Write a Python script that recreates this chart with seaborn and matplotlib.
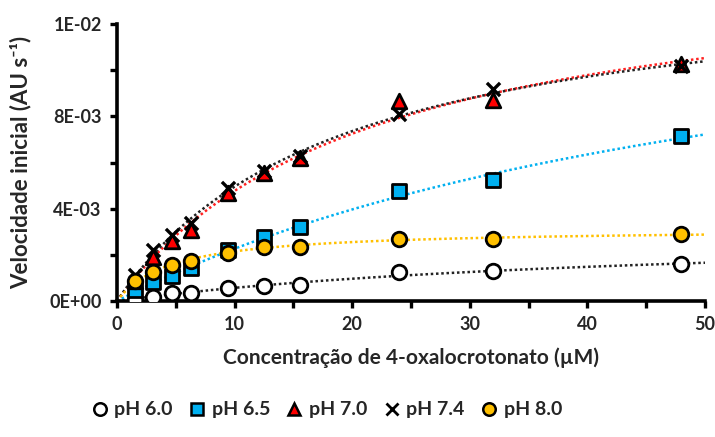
import numpy as np
import pandas as pd
import matplotlib
matplotlib.use("Agg")
import matplotlib.pyplot as plt
from matplotlib.lines import Line2D
from matplotlib.ticker import MultipleLocator, FixedLocator
import seaborn as sns

# Substrate concentrations (µM)
conc = [1.5, 3.1, 4.7, 6.3, 9.4, 12.5, 15.6, 24.0, 32.0, 48.0]

# Initial rates (AU s^-1) for each pH
v_ph60 = [0.04e-3, 0.19e-3, 0.33e-3, 0.36e-3, 0.58e-3, 0.65e-3, 0.70e-3, 1.25e-3, 1.28e-3, 1.60e-3]
v_ph65 = [0.48e-3, 0.84e-3, 1.09e-3, 1.42e-3, 2.22e-3, 2.77e-3, 3.20e-3, 4.78e-3, 5.23e-3, 7.14e-3]
v_ph70 = [0.85e-3, 1.91e-3, 2.58e-3, 3.09e-3, 4.68e-3, 5.55e-3, 6.20e-3, 8.67e-3, 8.70e-3, 10.25e-3]
v_ph74 = [1.13e-3, 2.22e-3, 2.87e-3, 3.38e-3, 4.90e-3, 5.62e-3, 6.28e-3, 8.09e-3, 9.17e-3, 10.17e-3]
v_ph80 = [0.87e-3, 1.27e-3, 1.57e-3, 1.75e-3, 2.10e-3, 2.32e-3, 2.36e-3, 2.70e-3, 2.70e-3, 2.91e-3]

series_labels = ["pH 6.0", "pH 6.5", "pH 7.0", "pH 7.4", "pH 8.0"]

# Axis tick labels
y_tick_values = [0.0, 0.004, 0.008, 0.012]
y_tick_labels = ["0E+00", "4E-03", "8E-03", "1E-02"]
x_tick_values = [0, 10, 20, 30, 40, 50]

series_values = [v_ph60, v_ph65, v_ph70, v_ph74, v_ph80]
fill_colors = ["white", "#00B0F0", "#FF0000", "black", "#FFC000"]
line_colors = ["#222222", "#00B0F0", "#FF2020", "#222222", "#FFC000"]
markers = ["o", "s", "^", "x", "o"]
sizes = [110, 100, 110, 90, 110]

df = pd.concat(
    [pd.DataFrame({"S": conc, "v": vals, "pH": lab})
     for vals, lab in zip(series_values, series_labels)],
    ignore_index=True,
)


def fit_michaelis_menten(s, v):
    """Least-squares Michaelis-Menten fit: scan Km, solve Vmax in closed form."""
    s = np.asarray(s, float)
    v = np.asarray(v, float)
    best = None
    for km in np.geomspace(0.1, 2000, 4000):
        f = s / (km + s)
        vmax = np.dot(f, v) / np.dot(f, f)
        sse = np.sum((v - vmax * f) ** 2)
        if best is None or sse < best[0]:
            best = (sse, vmax, km)
    return best[1], best[2]


sns.set_theme(style="white")
plt.rcParams["font.family"] = ["Lato", "DejaVu Sans"]
plt.rcParams["font.weight"] = "bold"

fig = plt.figure(figsize=(7.15, 4.37), dpi=100)
ax = fig.add_axes([117 / 715, 136 / 437, 588 / 715, 277 / 437])

s_curve = np.linspace(0, 50, 300)
for lab, lc in zip(series_labels, line_colors):
    sub = df[df["pH"] == lab]
    vmax, km = fit_michaelis_menten(sub["S"], sub["v"])
    curve = pd.DataFrame({"S": s_curve, "v": vmax * s_curve / (km + s_curve)})
    sns.lineplot(data=curve, x="S", y="v", ax=ax, color=lc, lw=1.8,
                 linestyle=(0, (1, 1.1)), zorder=2)

for i, (lab, fc, mk, sz) in enumerate(zip(series_labels, fill_colors, markers, sizes)):
    sub = df[df["pH"] == lab]
    if mk == "x":
        sns.scatterplot(data=sub, x="S", y="v", ax=ax, marker="x", s=sz,
                        color="black", linewidth=2.4, zorder=3 + i)
    else:
        sns.scatterplot(data=sub, x="S", y="v", ax=ax, marker=mk, s=sz,
                        color=fc, edgecolor="black", linewidth=2.0, zorder=3 + i)

ax.set_xlim(0, 50)
ax.set_ylim(0, 0.012)
ax.xaxis.set_major_locator(FixedLocator(x_tick_values))
ax.xaxis.set_minor_locator(MultipleLocator(5))
ax.yaxis.set_major_locator(FixedLocator(y_tick_values))
ax.yaxis.set_minor_locator(MultipleLocator(0.002))
ax.set_yticklabels(y_tick_labels)
ax.set_xticklabels([str(t) for t in x_tick_values])

for side in ["top", "right"]:
    ax.spines[side].set_visible(False)
for side in ["left", "bottom"]:
    ax.spines[side].set_linewidth(2.6)
    ax.spines[side].set_color("black")

ax.tick_params(which="both", direction="out", length=5, width=2.4, color="black",
               left=True, bottom=True)
ax.tick_params(which="major", labelsize=13, pad=6)
for lbl in ax.get_xticklabels() + ax.get_yticklabels():
    lbl.set_fontweight("bold")

ax.set_xlabel("Concentração de 4-oxalocrotonato (µM)", fontsize=15,
              fontweight="bold", labelpad=10)
ax.set_ylabel("Velocidade inicial (AU s⁻¹)", fontsize=16, fontweight="bold")
ax.yaxis.set_label_coords(-0.145, 0.5)

handles = []
for lab, fc, mk in zip(series_labels, fill_colors, markers):
    if mk == "x":
        h = Line2D([], [], marker="x", linestyle="none", color="black",
                   markersize=8, markeredgewidth=2.0)
    else:
        h = Line2D([], [], marker=mk, linestyle="none", markerfacecolor=fc,
                   markeredgecolor="black", markersize=9, markeredgewidth=1.8)
    handles.append(h)

fig.legend(handles, series_labels, loc="center", ncol=5,
           bbox_to_anchor=(326 / 715, 1 - 410 / 437), frameon=False,
           prop={"size": 14, "weight": "bold"}, handletextpad=0.25,
           columnspacing=0.75, handlelength=1.0)

fig.savefig("out.png", dpi=100)
